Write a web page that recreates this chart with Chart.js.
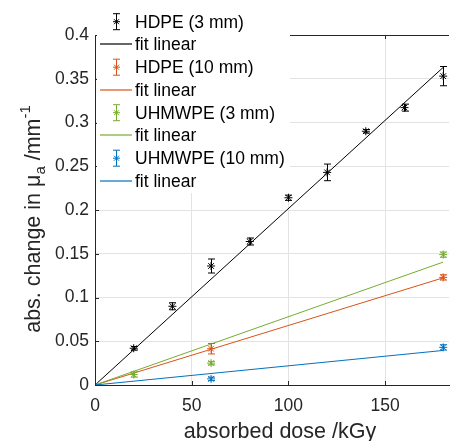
<!DOCTYPE html>
<html><head><meta charset="utf-8">
<script src="https://cdn.jsdelivr.net/npm/chart.js@4/dist/chart.umd.min.js"></script>
<style>html,body{margin:0;padding:0;background:#fff;overflow:hidden}#wrap{width:454px;height:441px;position:relative}</style>
</head><body><div id="wrap"><canvas id="c" width="454" height="441"></canvas></div>
<script>
// ---- data ----
const doseHdpe3 = [0, 20, 40, 60, 80, 100, 120, 140, 160, 180];
const hdpe3 = [0, 0.042, 0.090, 0.136, 0.164, 0.214, 0.243, 0.290, 0.317, 0.353];
const hdpe3Err = [0, 0.002, 0.004, 0.008, 0.004, 0.003, 0.0095, 0.002, 0.004, 0.011];
const doseHdpe10 = [0, 60, 180];
const hdpe10 = [0, 0.0415, 0.123];
const hdpe10Err = [0, 0.006, 0.003];
const doseUhmw3 = [0, 20, 60, 180];
const uhmw3 = [0, 0.012, 0.025, 0.149];
const uhmw3Err = [0, 0.003, 0.002, 0.003];
const doseUhmw10 = [0, 60, 180];
const uhmw10 = [0, 0.007, 0.043];
const uhmw10Err = [0, 0.002, 0.003];
const fitX = [0, 180];
const fitHdpe3 = [0, 0.363];
const fitHdpe10 = [0, 0.1225];
const fitUhmw3 = [0, 0.1405];
const fitUhmw10 = [0, 0.0395];
const seriesLabels = ['HDPE (3 mm)', 'HDPE (10 mm)', 'UHMWPE (3 mm)', 'UHMWPE (10 mm)'];
const fitLabel = 'fit linear';
const xTicks = [0, 50, 100, 150];
const xTitle = 'absorbed dose /kGy';

const FONT = '"Liberation Sans", Arial, Helvetica, sans-serif';
const AXC = '#262626';
const colors = ['#000000', '#D95319', '#77AC30', '#0072BD'];
const groups = [
  [doseHdpe3, hdpe3, hdpe3Err, fitHdpe3],
  [doseHdpe10, hdpe10, hdpe10Err, fitHdpe10],
  [doseUhmw3, uhmw3, uhmw3Err, fitUhmw3],
  [doseUhmw10, uhmw10, uhmw10Err, fitUhmw10]
];

const datasets = [];
groups.forEach((g, i) => {
  datasets.push({
    label: seriesLabels[i],
    data: g[0].map((x, k) => ({x: x, y: g[1][k]})),
    errors: g[2],
    showLine: false,
    pointStyle: 'star',
    pointRadius: 4,
    pointBorderWidth: 1,
    borderColor: colors[i],
    backgroundColor: colors[i],
    order: 20 - i * 2
  });
  datasets.push({
    label: fitLabel,
    data: fitX.map((x, k) => ({x: x, y: g[3][k]})),
    showLine: true,
    pointRadius: 0,
    borderWidth: 1,
    borderColor: colors[i],
    backgroundColor: colors[i],
    order: 19 - i * 2
  });
});

function star(ctx, x, y, r) {
  const d = r * Math.SQRT1_2;
  ctx.beginPath();
  ctx.moveTo(x - r, y); ctx.lineTo(x + r, y);
  ctx.moveTo(x, y - r); ctx.lineTo(x, y + r);
  ctx.moveTo(x - d, y - d); ctx.lineTo(x + d, y + d);
  ctx.moveTo(x - d, y + d); ctx.lineTo(x + d, y - d);
  ctx.stroke();
}

const decor = {
  id: 'decor',
  afterDatasetsDraw(chart) {
    const ctx = chart.ctx, xs = chart.scales.x, ys = chart.scales.y, a = chart.chartArea;
    ctx.save();
    // error bars
    chart.data.datasets.forEach(ds => {
      if (!ds.errors) return;
      ctx.strokeStyle = ds.borderColor; ctx.lineWidth = 1;
      ds.data.forEach((p, k) => {
        const e = ds.errors[k]; if (!e) return;
        const px = Math.round(xs.getPixelForValue(p.x)) + 0.5;
        const y1 = ys.getPixelForValue(p.y - e), y2 = ys.getPixelForValue(p.y + e);
        ctx.beginPath();
        ctx.moveTo(px, y1); ctx.lineTo(px, y2);
        ctx.moveTo(px - 3.5, y1); ctx.lineTo(px + 3.5, y1);
        ctx.moveTo(px - 3.5, y2); ctx.lineTo(px + 3.5, y2);
        ctx.stroke();
      });
    });
    // top border and inward ticks
    ctx.strokeStyle = AXC; ctx.lineWidth = 1;
    ctx.beginPath();
    ctx.moveTo(a.left, a.top + 0.5); ctx.lineTo(a.right, a.top + 0.5);
    xs.ticks.forEach(t => {
      const px = Math.round(xs.getPixelForValue(t.value)) + 0.5;
      ctx.moveTo(px, a.bottom); ctx.lineTo(px, a.bottom - 4);
      ctx.moveTo(px, a.top); ctx.lineTo(px, a.top + 4);
    });
    ys.ticks.forEach(t => {
      const py = Math.round(ys.getPixelForValue(t.value)) + 0.5;
      ctx.moveTo(a.left, py); ctx.lineTo(a.left + 4, py);
    });
    ctx.stroke();
    ctx.restore();
  },
  afterDraw(chart) {
    const ctx = chart.ctx;
    ctx.save();
    // legend box
    ctx.fillStyle = '#ffffff';
    ctx.fillRect(97, 0, 193, 193);
    ctx.font = '17.5px ' + FONT;
    ctx.textBaseline = 'middle';
    ctx.textAlign = 'left';
    for (let i = 0; i < seriesLabels.length; i++) {
      const col = colors[i];
      const cy = 21.7 + (2 * i) * 22.75;
      const cy2 = 21.7 + (2 * i + 1) * 22.75;
      // errorbar sample
      ctx.strokeStyle = col; ctx.lineWidth = 1;
      const cx = 116.5;
      ctx.beginPath();
      ctx.moveTo(cx, cy - 8); ctx.lineTo(cx, cy + 8);
      ctx.moveTo(cx - 3.5, cy - 8); ctx.lineTo(cx + 3.5, cy - 8);
      ctx.moveTo(cx - 3.5, cy + 8); ctx.lineTo(cx + 3.5, cy + 8);
      ctx.stroke();
      star(ctx, cx, cy, 3.5);
      ctx.fillStyle = '#000000';
      ctx.fillText(seriesLabels[i], 135, cy + 1);
      // fit line sample (soft, like the antialiased reference)
      ctx.strokeStyle = col; ctx.lineWidth = 1.2;
      ctx.beginPath();
      ctx.moveTo(100, Math.round(cy2)); ctx.lineTo(132, Math.round(cy2));
      ctx.stroke();
      ctx.fillStyle = '#000000';
      ctx.fillText(fitLabel, 135, cy2 + 1);
    }
    // x tick labels
    const xs = chart.scales.x;
    ctx.fillStyle = AXC;
    ctx.font = '17.5px ' + FONT;
    ctx.textAlign = 'center';
    ctx.textBaseline = 'alphabetic';
    xTicks.forEach(v => ctx.fillText(String(v), xs.getPixelForValue(v), 410.5));
    // x title
    ctx.font = '21.5px ' + FONT;
    ctx.fillText(xTitle, 280, 438);
    // y title with sub/superscript
    ctx.translate(40, 0);
    ctx.rotate(-Math.PI / 2);
    const big = '21.5px ' + FONT, small = '15px ' + FONT;
    const parts = [
      {t: 'abs. change in \u03bc', f: big, dy: 0},
      {t: 'a', f: small, dy: 5},
      {t: ' /mm', f: big, dy: 0},
      {t: '-1', f: small, dy: -10}
    ];
    let total = 0;
    parts.forEach(p => { ctx.font = p.f; p.w = ctx.measureText(p.t).width; total += p.w; });
    let x = -(219 + total / 2);
    ctx.textAlign = 'left';
    parts.forEach(p => { ctx.font = p.f; ctx.fillText(p.t, x, p.dy); x += p.w; });
    ctx.restore();
  }
};

new Chart(document.getElementById('c'), {
  type: 'scatter',
  data: {datasets: datasets},
  options: {
    responsive: false,
    animation: false,
    events: [],
    layout: {padding: {top: 35, left: 0, right: 0, bottom: 0}},
    plugins: {legend: {display: false}, tooltip: {enabled: false}, title: {display: false}},
    scales: {
      x: {
        type: 'linear', min: 0, max: 183,
        afterBuildTicks: s => { s.ticks = xTicks.map(v => ({value: v})); },
        afterFit: s => { s.height = 56; },
        ticks: {display: false},
        grid: {color: '#e3e3e3', drawTicks: false},
        border: {color: AXC, width: 1}
      },
      y: {
        type: 'linear', min: 0, max: 0.4,
        ticks: {stepSize: 0.05, color: AXC, font: {family: FONT, size: 17.5}, padding: 6,
                callback: v => String(+v.toFixed(2))},
        afterFit: s => { s.width = 95; },
        grid: {color: '#e3e3e3', drawTicks: false},
        border: {color: AXC, width: 1}
      }
    }
  },
  plugins: [decor]
});
</script></body></html>
